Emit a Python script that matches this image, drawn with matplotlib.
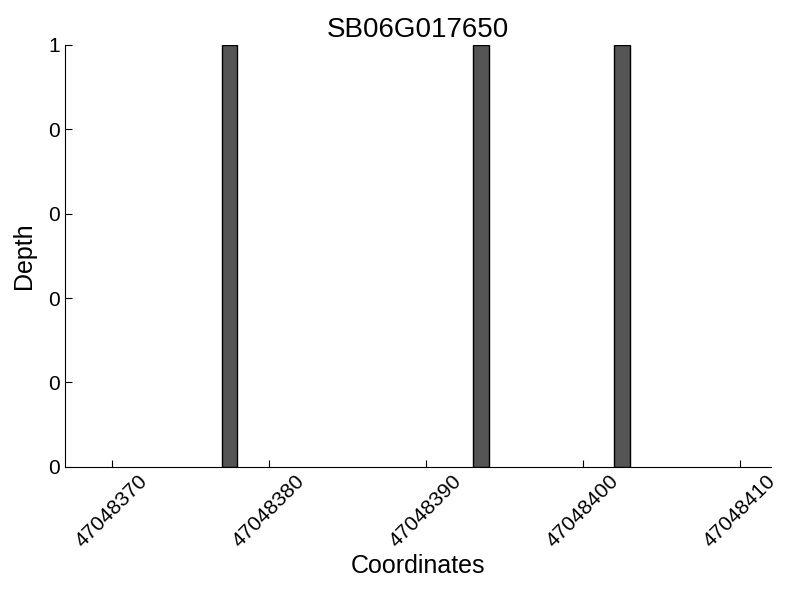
import matplotlib
matplotlib.use("Agg")
import matplotlib.pyplot as plt
from matplotlib.ticker import FormatStrFormatter

plt.rcParams['font.family'] = ['Liberation Sans', 'DejaVu Sans']

title = "SB06G017650"
positions = [47048377, 47048393, 47048402]
depths = [1, 1, 1]
xticks = [47048370, 47048380, 47048390, 47048400, 47048410]

fig = plt.figure(figsize=(8, 6), dpi=100)
ax = fig.add_axes([0.081, 0.222, 0.883, 0.703])
ax.bar(positions, depths, width=1, align='edge', color='#555555', edgecolor='black', linewidth=1)
ax.set_xlim(47048367, 47048412)
ax.set_ylim(0, 1)
ax.set_xticks(xticks)
ax.set_xticklabels([str(t) for t in xticks], rotation=45, fontsize=15)
ax.set_yticks([0, 0.2, 0.4, 0.6, 0.8, 1.0])
ax.yaxis.set_major_formatter(FormatStrFormatter('%d'))
ax.tick_params(axis='both', direction='in', labelsize=15, length=5)
ax.spines['top'].set_visible(False)
ax.spines['right'].set_visible(False)
ax.set_xlabel("Coordinates", fontsize=18, labelpad=2)
ax.set_ylabel("Depth", fontsize=18, labelpad=9)
ax.set_title(title, fontsize=20)
fig.savefig("out.png", dpi=100)
